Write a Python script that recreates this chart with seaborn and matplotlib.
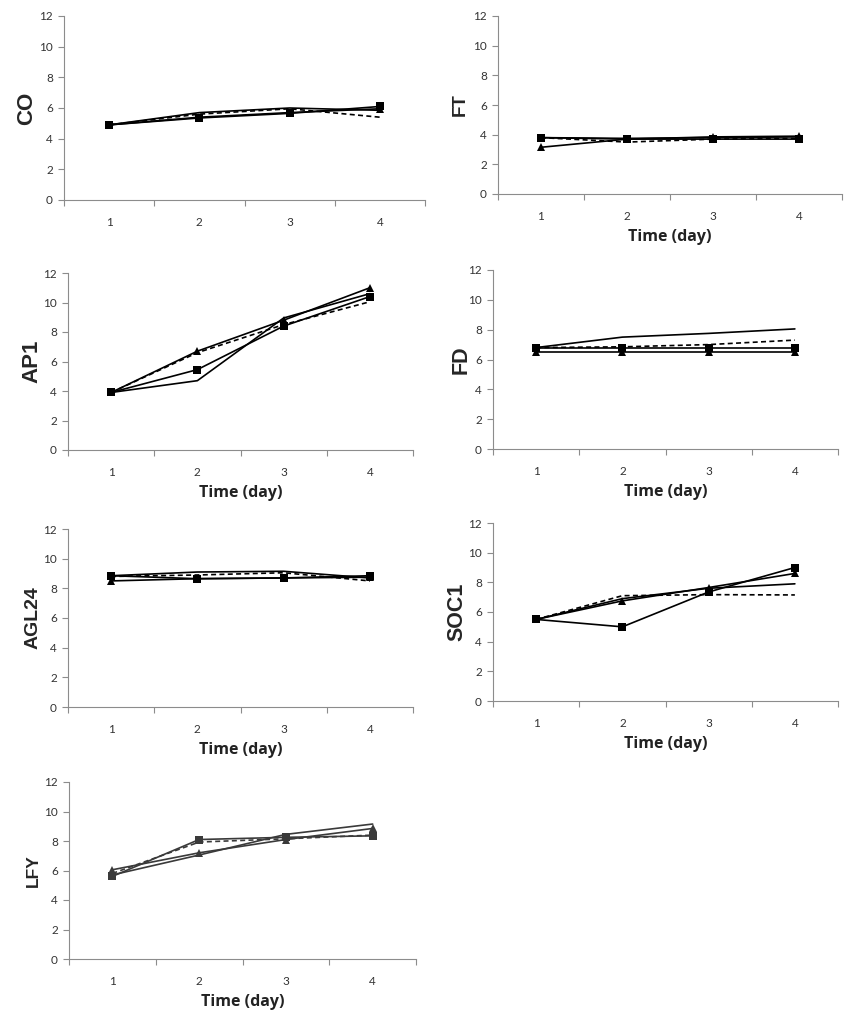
import matplotlib
matplotlib.use("Agg")
import matplotlib.pyplot as plt
import seaborn as sns
import pandas as pd

sns.set_theme(style="white")
plt.rcParams['font.family'] = ['Lato', 'DejaVu Sans']

# days on the x axis
days = [1, 2, 3, 4]
genes = ['CO', 'FT', 'AP1', 'FD', 'AGL24', 'SOC1', 'LFY']

# solid line + triangle markers
tri_co = [4.9, 5.4, 5.7, 5.95]
tri_ft = [3.15, 3.7, 3.85, 3.9]
tri_ap1 = [3.9, 6.7, 8.8, 11.0]
tri_fd = [6.5, 6.5, 6.5, 6.5]
tri_agl24 = [8.5, 8.65, 8.7, 8.75]
tri_soc1 = [5.5, 6.75, 7.65, 8.6]
tri_lfy = [6.05, 7.2, 8.1, 8.85]

# solid line + square markers
sq_co = [4.9, 5.35, 5.65, 6.1]
sq_ft = [3.8, 3.7, 3.7, 3.7]
sq_ap1 = [3.9, 5.45, 8.4, 10.4]
sq_fd = [6.8, 6.8, 6.8, 6.8]
sq_agl24 = [8.85, 8.65, 8.7, 8.85]
sq_soc1 = [5.5, 5.0, 7.35, 9.0]
sq_lfy = [5.6, 8.1, 8.25, 8.35]

# solid line, no markers
plain_co = [4.9, 5.7, 6.0, 5.85]
plain_ft = [3.8, 3.75, 3.8, 3.85]
plain_ap1 = [3.9, 4.7, 8.95, 10.6]
plain_fd = [6.8, 7.5, 7.75, 8.05]
plain_agl24 = [8.85, 9.1, 9.15, 8.7]
plain_soc1 = [5.5, 6.9, 7.6, 7.9]
plain_lfy = [5.7, 7.05, 8.45, 9.15]

# dashed line, no markers
dash_co = [4.9, 5.6, 5.95, 5.4]
dash_ft = [3.8, 3.5, 3.7, 3.75]
dash_ap1 = [3.9, 6.6, 8.5, 10.05]
dash_fd = [6.8, 6.85, 7.0, 7.3]
dash_agl24 = [8.8, 8.9, 9.05, 8.5]
dash_soc1 = [5.5, 7.1, 7.17, 7.15]
dash_lfy = [5.8, 7.93, 8.15, 8.4]

tri = [tri_co, tri_ft, tri_ap1, tri_fd, tri_agl24, tri_soc1, tri_lfy]
sq = [sq_co, sq_ft, sq_ap1, sq_fd, sq_agl24, sq_soc1, sq_lfy]
plain = [plain_co, plain_ft, plain_ap1, plain_fd, plain_agl24, plain_soc1, plain_lfy]
dash = [dash_co, dash_ft, dash_ap1, dash_fd, dash_agl24, dash_soc1, dash_lfy]

# axes boxes in pixels: left, right, top, bottom
boxes = [(64, 425, 16, 200), (498, 842, 16, 194),
         (68, 413, 273, 450), (493, 838, 270, 449),
         (68, 413, 529, 707), (493, 838, 523, 701),
         (69, 416, 782, 959)]
ylab_x = [27, 460, 32, 461, 33, 457, 33]
ylab_size = [16, 13.5, 16, 15.5, 14, 15.5, 12.5]

W, H = 859, 1024
fig = plt.figure(figsize=(W / 100, H / 100), dpi=100)

for i, g in enumerate(genes):
    l, r, t, b = boxes[i]
    ax = fig.add_axes([l / W, 1 - b / H, (r - l) / W, (b - t) / H])
    lc = '#3a3a3a' if g == 'LFY' else 'black'
    df = pd.DataFrame({'day': days, 'tri': tri[i], 'sq': sq[i],
                       'plain': plain[i], 'dash': dash[i]})
    sns.lineplot(data=df, x='day', y='plain', ax=ax, color=lc, lw=1.2)
    sns.lineplot(data=df, x='day', y='dash', ax=ax, color=lc, lw=1.2,
                 linestyle=(0, (3, 2)))
    sns.lineplot(data=df, x='day', y='tri', ax=ax, color=lc, lw=1.2,
                 marker='^', markersize=6, markeredgewidth=0)
    sns.lineplot(data=df, x='day', y='sq', ax=ax, color=lc, lw=1.2,
                 marker='s', markersize=6.3, markeredgewidth=0)

    ax.set_xlim(0.5, 4.5)
    ax.set_ylim(0, 12)
    ax.set_yticks(range(0, 13, 2))
    ax.set_xticks(days)
    ax.set_xticks([0.5, 1.5, 2.5, 3.5, 4.5], minor=True)
    ax.tick_params(axis='x', which='major', length=0, pad=12,
                   labelsize=8.5, labelcolor='#333333')
    ax.tick_params(axis='x', which='minor', length=4, color='#8c8c8c',
                   width=0.8, direction='out', bottom=True)
    ax.tick_params(axis='y', length=4, color='#8c8c8c', width=0.8,
                   direction='out', left=True, labelsize=8.5,
                   labelcolor='#333333', pad=4)
    for s in ['top', 'right']:
        ax.spines[s].set_visible(False)
    for s in ['left', 'bottom']:
        ax.spines[s].set_color('#8c8c8c')
        ax.spines[s].set_linewidth(0.8)

    ax.set_ylabel('')
    ax.set_xlabel('Time (day)' if g != 'CO' else '', fontsize=11.5,
                  fontweight='bold', labelpad=5, family=['Open Sans', 'DejaVu Sans'],
                  color='#222222')
    fig.text(ylab_x[i] / W, 1 - (t + b) / 2 / H, g, rotation=90,
             fontsize=ylab_size[i], fontweight='bold',
             family=['Liberation Sans', 'DejaVu Sans'],
             ha='center', va='center')

fig.savefig('out.png', dpi=100, facecolor='white')
